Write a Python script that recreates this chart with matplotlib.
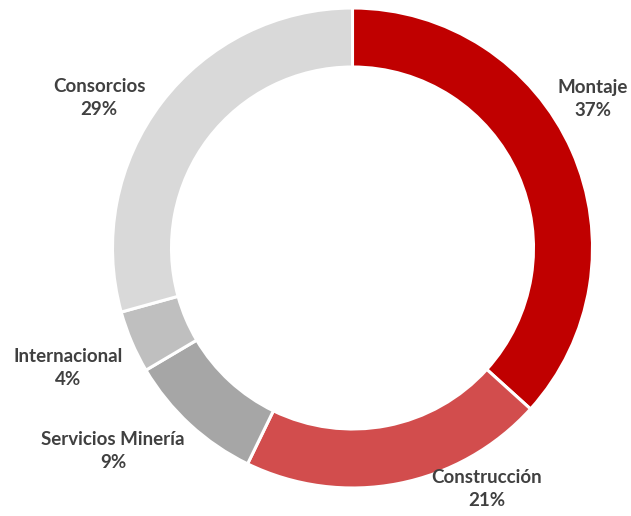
import matplotlib
matplotlib.use("Agg")
import matplotlib.pyplot as plt

# slice order: clockwise from 12 o'clock
labels = ["Montaje", "Construcción", "Servicios Minería", "Internacional", "Consorcios"]
shares = [36.7, 20.5, 9.3, 4.2, 29.3]      # slice sizes
shown_pct = [37, 21, 9, 4, 29]             # percentages printed in the labels
colors = ["#C00000", "#D24D4D", "#A6A6A6", "#BFBFBF", "#D9D9D9"]
# label anchor points in pixels (x from left, y from top)
label_pos = [(593, 99), (487, 489), (113, 451), (68, 368), (99, 98)]

W, H = 631, 516
fig = plt.figure(figsize=(W / 100, H / 100), dpi=100)
ax = fig.add_axes([0, 0, 1, 1])

ax.pie(shares, colors=colors, startangle=90, counterclock=False,
       center=(352.5, H - 248), radius=240, frame=True,
       wedgeprops=dict(width=59, edgecolor="white", linewidth=2.2))
ax.set_xlim(0, W)
ax.set_ylim(0, H)
ax.set_aspect("equal")
ax.axis("off")

for name, val, (x, y) in zip(labels, shown_pct, label_pos):
    ax.text(x, H - y, f"{name}\n{val}%", ha="center", va="center",
            fontsize=13.5, fontweight="bold", color="#404040",
            family="Lato", linespacing=1.4)

fig.savefig("out.png", dpi=100)
